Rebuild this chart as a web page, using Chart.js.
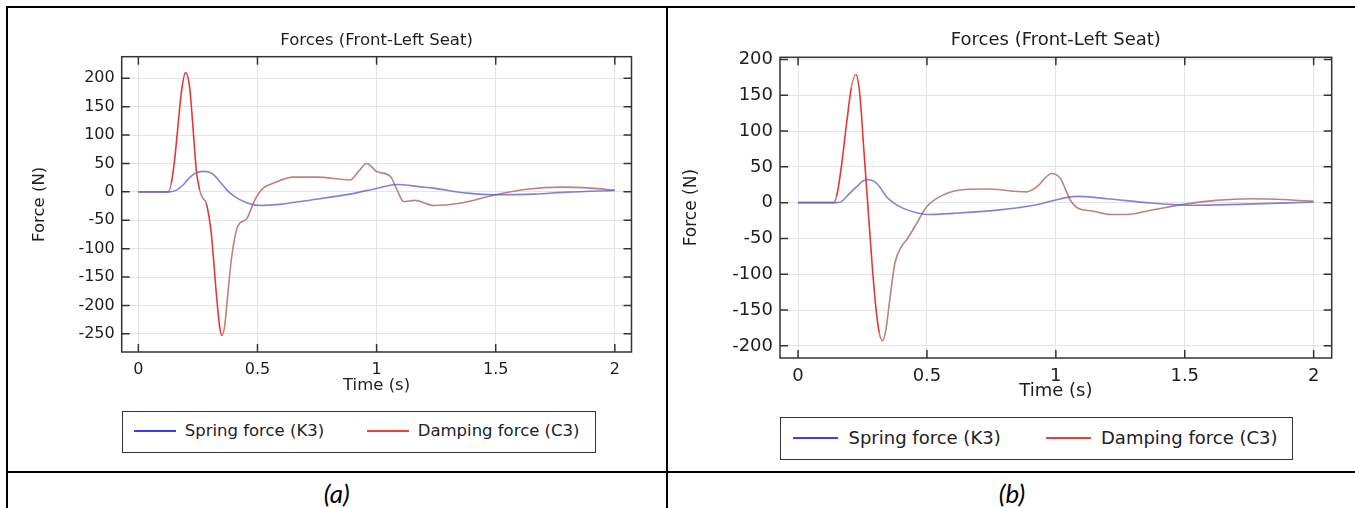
<!DOCTYPE html>
<html>
<head>
<meta charset="utf-8">
<script src="https://cdn.jsdelivr.net/npm/chart.js@4.4.1/dist/chart.umd.min.js"></script>
<style>
html,body{margin:0;padding:0;background:#fff;}
body{width:1355px;height:508px;position:relative;overflow:hidden;font-family:"DejaVu Sans",sans-serif;}
canvas{position:absolute;top:0;}
.ln{position:absolute;background:#000;}
.legend{position:absolute;border:1.5px solid #333;box-sizing:border-box;background:#fff;}
.sw{position:absolute;height:2px;}
.lt{position:absolute;white-space:nowrap;color:#222;line-height:1;transform:translateY(-50%);}
.cap{position:absolute;font-family:Lato,"Open Sans",sans-serif;font-style:italic;font-size:26px;color:#000;transform:translate(-50%,-50%);line-height:1;}
</style>
</head>
<body>
<div class="ln" style="left:6px;top:6px;width:1349px;height:2px;"></div>
<div class="ln" style="left:6px;top:6px;width:2px;height:502px;"></div>
<div class="ln" style="left:666px;top:6px;width:2px;height:502px;"></div>
<div class="ln" style="left:6px;top:471px;width:1349px;height:2px;"></div>
<canvas id="cA" width="667" height="470" style="left:0px"></canvas>
<canvas id="cB" width="688" height="470" style="left:667px"></canvas>
<script>
// ---- texts / ticks ----
const chartTitle = 'Forces (Front-Left Seat)';
const xTitle = 'Time (s)';
const yTitle = 'Force (N)';
const seriesNames = ['Spring force (K3)', 'Damping force (C3)'];
const captions = ['(a)', '(b)'];
const xTicks = [0, 0.5, 1, 1.5, 2];
const yTicksA = [-250, -200, -150, -100, -50, 0, 50, 100, 150, 200];
const yTicksB = [-200, -150, -100, -50, 0, 50, 100, 150, 200];

// ---- chart (a) data ----
const tA_spring = [0, 0.13, 0.16, 0.19, 0.215, 0.24, 0.27, 0.29, 0.31, 0.33, 0.35, 0.37, 0.40, 0.454, 0.512, 0.594, 0.694, 0.894, 1.004, 1.086, 1.184, 1.238, 1.38, 1.5, 1.66, 1.8, 2.0];
const vA_spring = [0, 0, 3, 13, 25, 33, 36, 35.5, 32, 24, 14, 4, -7, -19, -24, -22, -16, -3.5, 6.5, 13, 8.8, 6.5, -2.3, -5, -4, -0.5, 2.5];
const tA_damp = [0, 0.124, 0.138, 0.152, 0.166, 0.18, 0.198, 0.215, 0.229, 0.243, 0.257, 0.272, 0.285, 0.306, 0.327, 0.341, 0.351, 0.362, 0.376, 0.39, 0.412, 0.426, 0.454, 0.489, 0.524, 0.566, 0.65, 0.749, 0.889, 0.924, 0.959, 1.0, 1.058, 1.086, 1.113, 1.162, 1.24, 1.35, 1.5, 1.63, 1.78, 1.9, 2.0];
const vA_damp = [0, 0, 15, 56, 115, 174, 210, 185, 115, 39, 3.5, -12, -20, -73, -178, -237, -253, -237, -178, -120, -67, -55, -48, -14, 6.5, 15, 26, 26, 21, 36, 50, 36, 27, 3.5, -17, -15, -24, -20, -5, 4.7, 8.3, 6.5, 3];

// ---- chart (b) data ----
const tB_spring = [0, 0.149, 0.168, 0.2, 0.227, 0.253, 0.275, 0.298, 0.317, 0.343, 0.369, 0.408, 0.46, 0.504, 0.602, 0.774, 0.926, 0.991, 1.08, 1.198, 1.368, 1.537, 1.707, 2.0];
const vB_spring = [0, 0, 1.4, 13, 22, 30.5, 32, 29, 22, 8.3, 0, -8, -14, -16.5, -15, -10.5, -3, 3, 8.7, 5.5, -0.5, -3.7, -2.4, 0.8];
const tB_damp = [0, 0.136, 0.149, 0.168, 0.188, 0.207, 0.224, 0.24, 0.255, 0.27, 0.285, 0.30, 0.315, 0.328, 0.341, 0.356, 0.376, 0.402, 0.421, 0.46, 0.499, 0.538, 0.628, 0.732, 0.887, 0.926, 0.984, 1.017, 1.056, 1.088, 1.139, 1.215, 1.266, 1.368, 1.495, 1.622, 1.758, 1.9, 2.0];
const vB_damp = [0, 0, 8.3, 50, 110, 161, 179, 150, 75, 0, -75, -140, -182, -193, -177, -135, -84, -61, -52, -29, -5.6, 6, 17.6, 19, 15, 22, 40.7, 34, 3.7, -8.3, -11.6, -16.6, -16.6, -10.7, -2.4, 3.2, 5.5, 4, 1.8];

// ---- styles ----
const GRID = 'rgb(228,228,228)';
const BLUE_LINE = 'rgba(95,95,205,0.78)';
const RED_MUTED = 'rgb(192,128,128)';
const RED_BRIGHT = 'rgb(228,55,55)';
const LEG_BLUE = 'rgb(60,60,245)';
const LEG_RED = 'rgb(245,60,60)';
const TXT = '#1e1e1e';

function pts(t, v) { return t.map((x, i) => ({x: x, y: v[i]})); }

const frameTicks = {
  id: 'frameTicks',
  afterDatasetsDraw(chart) {
    const {ctx, chartArea: a, scales: {x, y}} = chart;
    ctx.save();
    ctx.strokeStyle = '#333';
    ctx.lineWidth = 1.5;
    ctx.strokeRect(a.left, a.top, a.right - a.left, a.bottom - a.top);
    const L = 8;
    ctx.beginPath();
    x.ticks.forEach(t => {
      const px = x.getPixelForValue(t.value);
      ctx.moveTo(px, a.top); ctx.lineTo(px, a.top + L);
      ctx.moveTo(px, a.bottom); ctx.lineTo(px, a.bottom - L);
    });
    y.ticks.forEach(t => {
      const py = y.getPixelForValue(t.value);
      ctx.moveTo(a.left, py); ctx.lineTo(a.left + L, py);
      ctx.moveTo(a.right, py); ctx.lineTo(a.right - L, py);
    });
    ctx.stroke();
    ctx.restore();
  }
};

function dampColor(c) {
  const ds = c.chart.data.datasets[c.datasetIndex].data;
  const dx = Math.abs(c.p1.x - c.p0.x), dy = c.p1.y - c.p0.y;
  const v0 = ds[c.p0DataIndex].y;
  return (Math.abs(dy) > 3 * dx && (dy > 0 || v0 >= 0)) ? RED_BRIGHT : RED_MUTED;
}

function makeChart(id, P) {
  return new Chart(document.getElementById(id), {
    type: 'line',
    data: {
      datasets: [
        {label: seriesNames[0], data: pts(P.ts, P.vs), borderColor: BLUE_LINE, borderWidth: 1.6,
         pointRadius: 0, fill: false, cubicInterpolationMode: 'monotone'},
        {label: seriesNames[1], data: pts(P.td, P.vd), borderColor: RED_MUTED, borderWidth: 1.6,
         pointRadius: 0, fill: false, cubicInterpolationMode: 'monotone',
         segment: {borderColor: dampColor}}
      ]
    },
    options: {
      responsive: false, animation: false, devicePixelRatio: 1,
      layout: {padding: {left: 0, top: 0, right: P.pr, bottom: P.pb}},
      plugins: {
        legend: {display: false},
        tooltip: {enabled: false},
        title: {display: true, text: chartTitle, fullSize: false, color: TXT,
                font: {family: 'DejaVu Sans', size: P.fText, weight: 'normal'},
                padding: {top: P.tpTop, bottom: P.tpBot}}
      },
      scales: {
        x: {
          type: 'linear', position: 'bottom', min: -0.07, max: 2.07,
          afterBuildTicks: s => { s.ticks = xTicks.map(v => ({value: v})); },
          afterFit: s => { s.height = P.xh; },
          grid: {color: GRID, drawTicks: false, lineWidth: 1},
          border: {display: false},
          ticks: {padding: P.xTickPad, color: TXT, autoSkip: false, maxRotation: 0,
                  font: {family: 'DejaVu Sans', size: P.fTick}, callback: v => String(v)},
          title: {display: true, text: xTitle, color: TXT, padding: {top: 0, bottom: 0},
                  font: {family: 'DejaVu Sans', size: P.fText}}
        },
        y: {
          type: 'linear', position: 'left', min: P.yMin, max: P.yMax,
          afterBuildTicks: s => { s.ticks = P.yTicks.map(v => ({value: v})); },
          afterFit: s => { s.width = P.yw; },
          grid: {color: GRID, drawTicks: false, lineWidth: 1},
          border: {display: false},
          ticks: {padding: P.yTickPad, color: TXT, autoSkip: false,
                  font: {family: 'DejaVu Sans', size: P.fTick}, callback: v => String(v)},
          title: {display: true, text: yTitle, color: TXT, padding: {top: P.yTitlePad, bottom: 0},
                  font: {family: 'DejaVu Sans', size: P.fYTitle}}
        }
      }
    },
    plugins: [frameTicks]
  });
}

makeChart('cA', {ts: tA_spring, vs: vA_spring, td: tA_damp, vd: vA_damp,
  yMin: -282, yMax: 238, yTicks: yTicksA, pr: 35.5, pb: 74.6, xh: 43.4, yw: 121.7,
  fTick: 16, fText: 16.5, fYTitle: 16.5, tpTop: 30.7, tpBot: 6.2, yTitlePad: 30.1, xTickPad: 8, yTickPad: 7});
makeChart('cB', {ts: tB_spring, vs: vB_spring, td: tB_damp, vd: vB_damp,
  yMin: -217, yMax: 203, yTicks: yTicksB, pr: 23.3, pb: 68.2, xh: 43.8, yw: 113,
  fTick: 18, fText: 18, fYTitle: 17, tpTop: 29.7, tpBot: 6.0, yTitlePad: 14.8, xTickPad: 8, yTickPad: 7});

// ---- HTML legends (built from the series names) ----
function addLegend(L) {
  const box = document.createElement('div');
  box.className = 'legend';
  box.style.left = L.left + 'px'; box.style.top = L.top + 'px';
  box.style.width = L.w + 'px'; box.style.height = L.h + 'px';
  const cols = [LEG_BLUE, LEG_RED];
  seriesNames.forEach((name, i) => {
    const sw = document.createElement('div');
    sw.className = 'sw';
    sw.style.left = L.sw[i] + 'px'; sw.style.width = L.swW + 'px';
    sw.style.top = (L.cy - 1) + 'px'; sw.style.background = cols[i];
    box.appendChild(sw);
    const t = document.createElement('div');
    t.className = 'lt';
    t.textContent = name;
    t.style.left = L.tx[i] + 'px'; t.style.top = L.cy + 'px';
    t.style.fontSize = L.fs + 'px';
    box.appendChild(t);
  });
  document.body.appendChild(box);
}
addLegend({left: 121.7, top: 410.7, w: 474.3, h: 42, sw: [11, 244], swW: 42, tx: [62, 295], cy: 19.5, fs: 16.5});
addLegend({left: 780, top: 417, w: 513, h: 43, sw: [12, 265], swW: 45, tx: [67.5, 320], cy: 20, fs: 18});

// ---- captions ----
[[336.7, 493], [1012, 493]].forEach((p, i) => {
  const c = document.createElement('div');
  c.className = 'cap';
  c.textContent = captions[i];
  c.style.left = p[0] + 'px'; c.style.top = p[1] + 'px';
  document.body.appendChild(c);
});
</script>
</body>
</html>
